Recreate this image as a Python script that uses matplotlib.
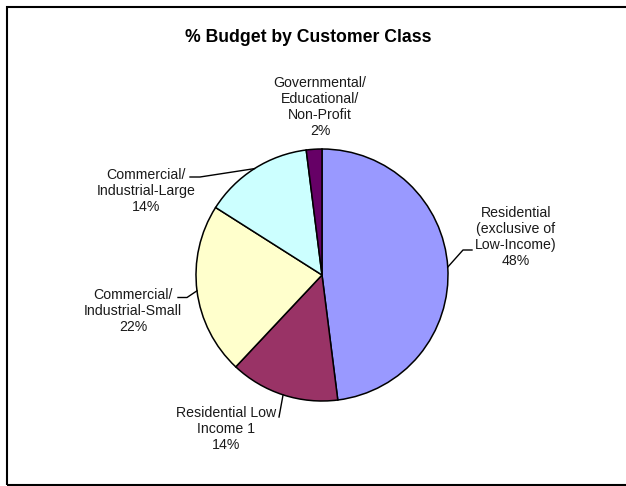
import numpy as np
import matplotlib.pyplot as plt
from matplotlib.patches import Rectangle

W, H = 626, 486

# data
categories = ["Residential\n(exclusive of\nLow-Income)",
              "Residential Low\nIncome 1",
              "Commercial/\nIndustrial-Small",
              "Commercial/\nIndustrial-Large",
              "Governmental/\nEducational/\nNon-Profit"]
shares = [48, 14, 22, 14, 2]
colors = ["#9999FF", "#993366", "#FFFFCC", "#CCFFFF", "#660066"]

# layout (pixel coords, y measured from top)
center = (322, 275)
radius = 126
label_pos = [(516, 237), (226, 429), (133, 311), (146, 191), (320, 107)]
# where the leader line leaves the label (None = no leader)
leader_start = [[(472, 250), (463, 250)],
                [(279, 417)],
                [(178, 297.5), (187, 297.5)],
                [(190, 177), (200, 177)],
                None]

plt.rcParams['font.family'] = ['Liberation Sans', 'DejaVu Sans']

fig = plt.figure(figsize=(W / 100, H / 100), dpi=100)
ax = fig.add_axes([0, 0, 1, 1])

def py(y):
    return H - y

wedges, _ = ax.pie(shares, colors=colors, startangle=90, counterclock=False,
                   center=(center[0], py(center[1])), radius=radius,
                   wedgeprops=dict(edgecolor='black', linewidth=1.1),
                   frame=True)
ax.set_xlim(0, W)
ax.set_ylim(0, H)
ax.set_aspect('equal')
ax.axis('off')

for w, cat, val, pos, lead in zip(wedges, categories, shares, label_pos, leader_start):
    ax.text(pos[0], py(pos[1]), f"{cat}\n{val}%", ha='center', va='center',
            fontsize=10.2, linespacing=1.17, color='#1a1a1a')
    if lead is None:
        continue
    mid = np.deg2rad((w.theta1 + w.theta2) / 2)
    ex = w.center[0] + w.r * np.cos(mid)
    ey = w.center[1] + w.r * np.sin(mid)
    xs = [p[0] for p in lead] + [ex]
    ys = [py(p[1]) for p in lead] + [ey]
    ax.plot(xs, ys, color='black', linewidth=1.0)

ax.text(308, py(38), "% Budget by Customer Class", ha='center', va='center',
        fontsize=12.7, fontweight='bold')

ax.add_patch(Rectangle((7, py(485)), 660, 478, fill=False, edgecolor='black',
                       linewidth=1.5, clip_on=False))

fig.savefig("out.png", dpi=100)
